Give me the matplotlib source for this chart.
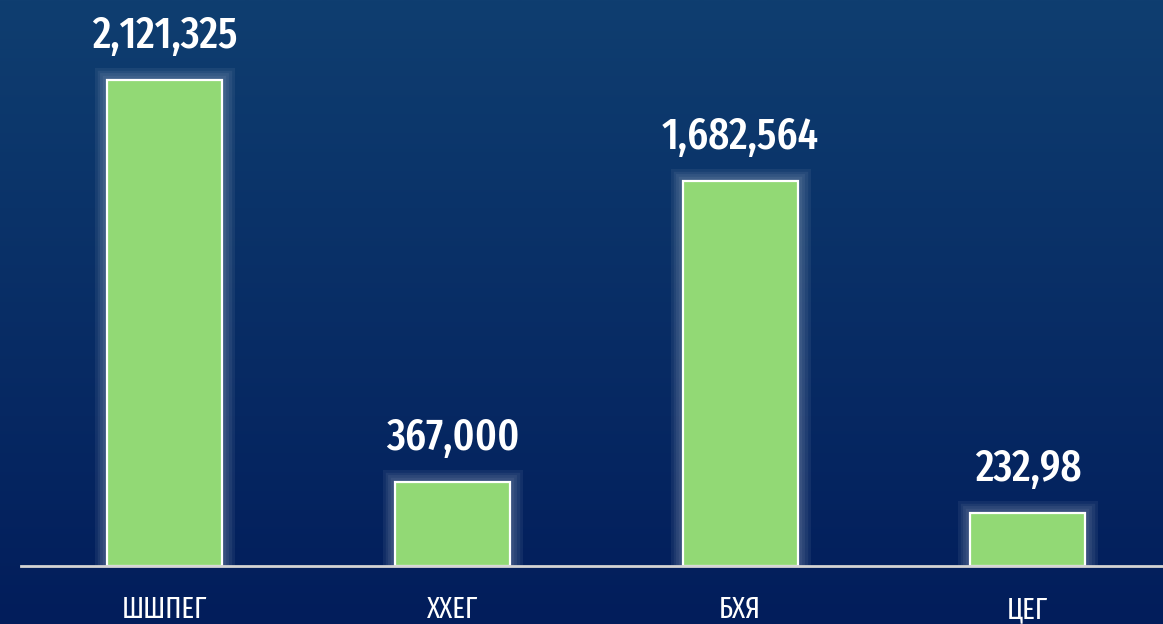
import matplotlib
matplotlib.use("Agg")
import matplotlib.pyplot as plt
import matplotlib.patheffects as pe
import numpy as np

# Data
categories = ["ШШПЕГ", "ХХЕГ", "БХЯ", "ЦЕГ"]
values = [2121325, 367000, 1682564, 232980]
value_labels = ["2,121,325", "367,000", "1,682,564", "232,98"]

# Style
bg_top = "#0f3e70"
bg_bottom = "#021d5b"
bar_color = "#92d975"
font_family = ["Fira Sans Extra Condensed", "Roboto Condensed", "DejaVu Sans"]

fig = plt.figure(figsize=(11.63, 6.24), dpi=100)

# gradient background over the whole figure
bg = fig.add_axes([0, 0, 1, 1], zorder=0)
grad = np.linspace(0, 1, 256).reshape(-1, 1)
cmap = matplotlib.colors.LinearSegmentedColormap.from_list("bg", [bg_top, bg_bottom])
bg.imshow(grad, aspect="auto", cmap=cmap, extent=[0, 1, 0, 1])
bg.axis("off")

ax = fig.add_axes([21 / 1163, 58 / 624, 1 - 21 / 1163, 566 / 624], zorder=1)
ax.patch.set_alpha(0)

x = np.arange(len(categories))
glow = [pe.Stroke(linewidth=w, foreground="white", alpha=0.06) for w in (18, 14, 10, 6)]
bars = ax.bar(x, values, width=0.4, color=bar_color, edgecolor="white", linewidth=1.6, zorder=2)
for b in bars:
    b.set_path_effects(glow + [pe.Normal()])

for xi, v, lab in zip(x, values, value_labels):
    ax.annotate(lab, (xi, v), xytext=(0, 16), textcoords="offset points",
                ha="center", va="bottom", color="white", fontsize=32,
                fontweight="medium", family=font_family)

ax.set_xlim(-0.5, 3.47)
ax.set_ylim(0, 566 / 486 * values[0])
ax.set_xticks(x)
ax.set_xticklabels(categories, family=font_family, fontsize=21, color="white")
ax.tick_params(axis="x", length=0, pad=21)
ax.set_yticks([])
for s in ("top", "right", "left"):
    ax.spines[s].set_visible(False)
ax.spines["bottom"].set_color("#d4d4d4")
ax.spines["bottom"].set_linewidth(2)
ax.spines["bottom"].set_zorder(3)

fig.savefig("out.png", dpi=100)
